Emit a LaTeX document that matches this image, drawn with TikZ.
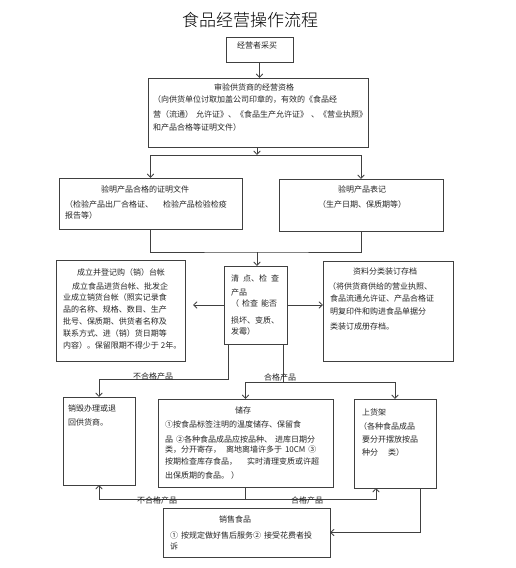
\documentclass[tikz,border=0pt]{standalone}
\usepackage{fontspec}
\setmainfont{Noto Sans CJK SC}
\newfontfamily\titlefont{Noto Sans CJK SC Light}
\usetikzlibrary{arrows.meta}
\tikzset{
  box/.style={draw=black!75, line width=0.7pt, inner sep=0pt, outer sep=0pt, fill=none},
  txt/.style={inner sep=0pt, outer sep=0pt, anchor=west, text=black!85, font=\fontsize{8}{9}\selectfont},
  ctxt/.style={txt, anchor=center},
  lbl/.style={inner sep=0pt, text=black!85, font=\fontsize{8}{9}\selectfont},
  conn/.style={draw=black!75, line width=0.7pt},
  arr/.style={conn, -{Straight Barb[length=3.5pt,width=6.5pt,line width=0.8pt]}},
}
\begin{document}
\begin{tikzpicture}[x=1pt,y=-1pt]
\useasboundingbox (0,0) rectangle (516,568);
\fill[white] (0,0) rectangle (516,568);

% title
\node[inner sep=0pt, font=\titlefont\fontsize{17}{19}\selectfont] (title) at (250,20) {食品经营操作流程};

% boxes
\node[box, minimum width=67pt, minimum height=25pt] (b1) at (259.5,49.5) {};
\node[box, minimum width=220pt, minimum height=69pt] (b2) at (258,112.5) {};
\node[box, minimum width=183pt, minimum height=51pt] (b3) at (150.5,203.5) {};
\node[box, minimum width=164pt, minimum height=52pt] (b4) at (361,205) {};
\node[box, minimum width=63pt, minimum height=78pt] (b5) at (255.5,305) {};
\node[box, minimum width=129pt, minimum height=101pt] (b6) at (120.5,310.5) {};
\node[box, minimum width=130pt, minimum height=100pt] (b7) at (388,311) {};
\node[box, minimum width=72pt, minimum height=88pt] (b8) at (99,441) {};
\node[box, minimum width=175pt, minimum height=88pt] (b9) at (245.5,443) {};
\node[box, minimum width=82pt, minimum height=89pt] (b10) at (395,443.5) {};
\node[box, minimum width=167pt, minimum height=49pt] (b11) at (246.5,532.5) {};

% texts b1
\node[ctxt] (t1) at (257,45) {经营者采买};
% b2
\node[ctxt] (t2a) at (254,87) {审验供货商的经营资格};
\node[txt] (t2b) at (153,100) {（向供货单位讨取加盖公司印章的，有效的《食品经};
\node[txt] (t2c) at (153,114) {营（流通）\hspace{3pt}允许证》、《食品生产允许证》\hspace{3pt}、《营业执照》};
\node[txt] (t2d) at (153,127) {和产品合格等证明文件）};
% b3
\node[ctxt] (t3a) at (145,189) {验明产品合格的证明文件};
\node[txt] (t3b) at (65,204) {（检验产品出厂合格证、\hspace{10pt}检验产品检验检疫};
\node[txt] (t3c) at (65,215) {报告等）};
% b4
\node[ctxt] (t4a) at (362,189) {验明产品表记};
\node[ctxt] (t4b) at (362,204) {（生产日期、保质期等）};
% b5
\node[txt] (t5a) at (231,278) {清\hspace{4pt}点、检\hspace{4pt}查};
\node[txt] (t5b) at (231,292) {产品};
\node[txt] (t5c) at (231,303) {（\hspace{3pt}检查\hspace{3pt}能否};
\node[txt] (t5d) at (231,320) {损坏、变质、};
\node[txt] (t5e) at (231,331) {发霉）};
% b6
\begin{scope}[every node/.append style={font=\fontsize{8.5}{9}\selectfont}]
\node[txt] (t6a) at (77,272) {成立并登记购（销）台帐};
\node[txt] (t6b) at (72,286) {成立食品进货台帐、批发企};
\node[txt] (t6c) at (63,297) {业成立销货台帐（照实记录食};
\node[txt] (t6d) at (63,309) {品的名称、规格、数目、生产};
\node[txt] (t6e) at (63,321) {批号、保质期、供货者名称及};
\node[txt] (t6f) at (63,333) {联系方式、进（销）货日期等};
\node[txt] (t6g) at (63,345) {内容）。保留限期不得少于\hspace{2pt}2年。};
\end{scope}
% b7
\node[ctxt] (t7a) at (385,271) {资料分类装订存档};
\node[txt] (t7b) at (328,286) {（将供货商供给的营业执照、};
\node[txt] (t7c) at (330,298) {食品流通允许证、产品合格证};
\node[txt] (t7d) at (330,311) {明复印件和购进食品单据分};
\node[txt] (t7e) at (330,326) {类装订成册存档。};
% b8
\node[txt] (t8a) at (68,408) {销毁办理或退};
\node[txt] (t8b) at (68,422) {回供货商。};
% b9
\node[ctxt] (t9a) at (243,410) {储存};
\node[txt] (t9b) at (165,424) {①按食品标签注明的温度储存、保留食};
\node[txt] (t9c) at (165,439) {品\hspace{3pt}②各种食品成品应按品种、\hspace{3pt}进库日期分};
\node[txt] (t9d) at (165,450) {类，分开寄存，\hspace{5pt}离地离墙许多于\hspace{3pt}10CM\hspace{3pt}③};
\node[txt] (t9e) at (165,462) {按期检查库存食品，\hspace{10pt}实时清理变质或许超};
\node[txt] (t9f) at (165,475) {出保质期的食品。\hspace{2pt}）};
% b10
\node[txt] (t10a) at (362,412) {上货架};
\node[txt] (t10b) at (359,426) {（各种食品成品};
\node[txt] (t10c) at (362,439) {要分开摆放按品};
\node[txt] (t10d) at (362,452) {种分\hspace{10pt}类）};
% b11
\node[ctxt] (t11a) at (235,519) {销售食品};
\node[txt] (t11b) at (170,535) {①\hspace{3pt}按规定做好售后服务②\hspace{3pt}接受花费者投};
\node[txt] (t11c) at (170,546) {诉};

% junction coordinates
\coordinate (j1) at (257,155);
\coordinate (j2) at (257,252);
\coordinate (j3) at (228,379);
\coordinate (j4) at (283,382);
\coordinate (j5) at (245,499);
\coordinate (j6) at (376,499);
\coordinate (j7) at (420,532.5);

% connectors
\draw[arr] (b1.south) -- (b1.south |- b2.north);
\draw[arr] (b2.south -| j1) -- (j1);
\draw[conn] (b3.north |- j1) -- (b4.north |- j1);
\draw[arr] (b3.north |- j1) -- (b3.north);
\draw[arr] (b4.north |- j1) -- (b4.north);
\draw[conn] (b3.south) |- (j2) -| (b4.south);
\draw[arr] (j2) -- (j2 |- b5.north);
\draw[arr, shorten >=8pt] (b5.west) -- (b5.west -| b6.east);
\draw[arr] (b5.east) -- (b5.east -| b7.west);
\draw[arr] (b5.south -| j3) -- (j3) -| (b8.north);
\draw[conn] (b5.south -| j4) -- (j4);
\draw[arr] (j4) -| (b9.north);
\draw[arr] (j4) -| (b10.north);
\draw[conn] (b9.south -| j5) -- (j5);
\draw[arr] (j5) -| (b8.south);
\draw[arr] (j5) -- (j6) -- (j6 |- b10.south);
\draw[arr] (b10.south -| j7) -- (j7) -- (b11.east);

% labels
\node[lbl] (l1) at (153,376) {不合格产品};
\node[lbl] (l2) at (280,377) {合格产品};
\node[lbl] (l3) at (157,500) {不合格产品};
\node[lbl] (l4) at (307,500) {合格产品};
\end{tikzpicture}
\end{document}
